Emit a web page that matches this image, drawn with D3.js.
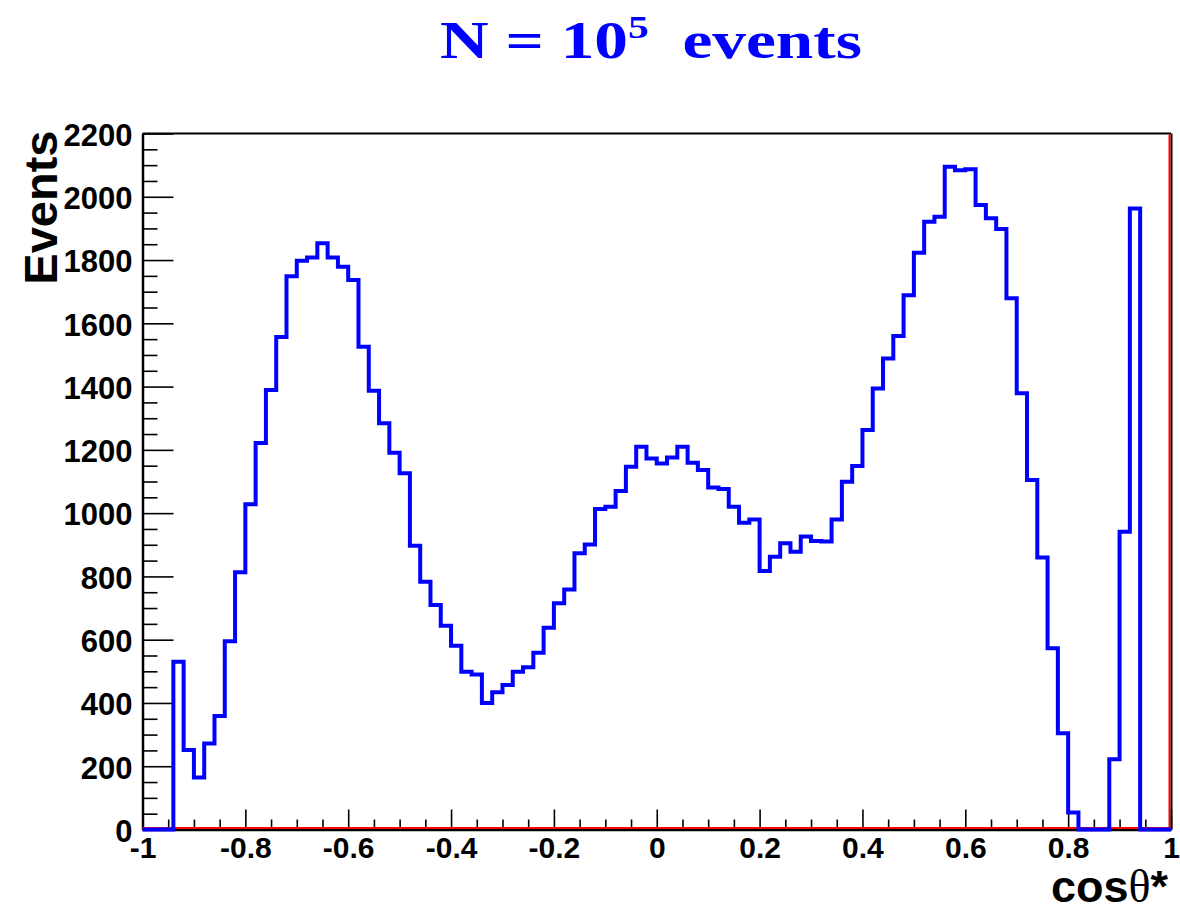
<!DOCTYPE html>
<html>
<head>
<meta charset="utf-8">
<script src="https://cdn.jsdelivr.net/npm/d3@7"></script>
<style>
  body { margin: 0; background: #fff; }
  text { font-family: "Liberation Sans", Arial, sans-serif; font-weight: bold; }
</style>
</head>
<body>
<svg id="chart"></svg>
<script>
// histogram of cos(theta*), 100 bins from -1 to 1
const binLow = -1;
const binHigh = 1;
const counts = [
  0, 0, 0, 530, 251, 164, 272, 359, 595, 813,
  1028, 1222, 1389, 1557, 1749, 1798, 1808, 1853, 1808, 1779,
  1737, 1526, 1387, 1284, 1191, 1126, 897, 783, 710, 644,
  581, 499, 490, 400, 434, 457, 499, 513, 559, 638,
  715, 759, 873, 901, 1013, 1020, 1070, 1147, 1210, 1173,
  1157, 1176, 1210, 1159, 1136, 1081, 1076, 1020, 970, 980,
  817, 862, 905, 878, 926, 912, 910, 980, 1099, 1149,
  1263, 1394, 1489, 1560, 1689, 1823, 1921, 1937, 2095, 2084,
  2087, 1974, 1932, 1898, 1679, 1379, 1105, 860, 573, 304,
  54, 0, 0, 0, 222, 941, 1963, 0, 0, 0
];
const xMajorTicks = [-1, -0.8, -0.6, -0.4, -0.2, 0, 0.2, 0.4, 0.6, 0.8, 1];
const xTickLabels = ["-1", "-0.8", "-0.6", "-0.4", "-0.2", "0", "0.2", "0.4", "0.6", "0.8", "1"];
const yMajorTicks = [0, 200, 400, 600, 800, 1000, 1200, 1400, 1600, 1800, 2000, 2200];
const yMax = 2200;

const width = 1180, height = 911;
const margin = { top: 133.5, right: 9, bottom: 81.5, left: 142.5 };

const svg = d3.select("#chart")
  .attr("width", width)
  .attr("height", height);

const x = d3.scaleLinear()
  .domain([binLow, binHigh])
  .range([margin.left, width - margin.right]);

const y = d3.scaleLinear()
  .domain([0, yMax])
  .range([height - margin.bottom, margin.top]);

const nBins = counts.length;
const binW = (binHigh - binLow) / nBins;

// minor ticks: x every 0.05, y every 50
const xMinor = d3.range(0, 41).map(i => binLow + i * 0.05).filter(v => !xMajorTicks.some(m => Math.abs(m - v) < 1e-9));
const yMinor = d3.range(0, yMax + 1, 50).filter(v => v % 200 !== 0);

// frame top + red lines
svg.append("line")
  .attr("x1", x(binLow)).attr("x2", x(binHigh))
  .attr("y1", y(yMax)).attr("y2", y(yMax))
  .attr("stroke", "#000").attr("stroke-width", 2);
svg.append("line")
  .attr("x1", x(binHigh) + 0.5).attr("x2", x(binHigh) + 0.5)
  .attr("y1", y(yMax)).attr("y2", y(0))
  .attr("stroke", "#000").attr("stroke-width", 2);
svg.append("line")
  .attr("x1", x(binHigh) - 1.5).attr("x2", x(binHigh) - 1.5)
  .attr("y1", y(yMax) + 1).attr("y2", y(0))
  .attr("stroke", "#ff0000").attr("stroke-width", 2);

// x axis
const xAxisGroup = svg.append("g")
  .attr("transform", `translate(0,${y(0)})`)
  .call(d3.axisBottom(x).tickValues(xMajorTicks).tickSize(-20).tickSizeOuter(0).tickPadding(7)
    .tickFormat((d, i) => xTickLabels[i]));
svg.append("g")
  .attr("transform", `translate(0,${y(0)})`)
  .call(d3.axisBottom(x).tickValues(xMinor).tickSize(-10).tickSizeOuter(0).tickFormat(""))
  .select(".domain").remove();

// y axis
const yAxisGroup = svg.append("g")
  .attr("transform", `translate(${x(binLow)},0)`)
  .call(d3.axisLeft(y).tickValues(yMajorTicks).tickSize(-31).tickSizeOuter(0).tickPadding(10)
    .tickFormat(d3.format("d")));
svg.append("g")
  .attr("transform", `translate(${x(binLow)},0)`)
  .call(d3.axisLeft(y).tickValues(yMinor).tickSize(-15).tickSizeOuter(0).tickFormat(""))
  .select(".domain").remove();

svg.selectAll(".tick line").attr("stroke", "#000").attr("stroke-width", 1.6);
svg.selectAll(".domain").attr("stroke", "#000").attr("stroke-width", 2.5);

xAxisGroup.selectAll("text")
  .attr("font-size", 30).attr("fill", "#000")
  .style("font-family", "'Liberation Sans', Arial, sans-serif").style("font-weight", "bold");
yAxisGroup.selectAll("text")
  .attr("font-size", 31).attr("fill", "#000").attr("dy", "0.38em")
  .style("font-family", "'Liberation Sans', Arial, sans-serif").style("font-weight", "bold");

// red line along zero
svg.append("line")
  .attr("x1", x(binLow)).attr("x2", x(binHigh))
  .attr("y1", y(0) - 1.5).attr("y2", y(0) - 1.5)
  .attr("stroke", "#ff0000").attr("stroke-width", 2);

// histogram outline
const pts = [];
counts.forEach((c, i) => {
  const lo = binLow + i * binW;
  pts.push([lo, c], [lo + binW, c]);
});
const line = d3.line()
  .x(d => x(d[0]))
  .y(d => y(d[1]));
svg.append("path")
  .attr("d", line(pts))
  .attr("fill", "none")
  .attr("stroke", "#0000ff")
  .attr("stroke-width", 4)
  .attr("stroke-linejoin", "miter");

// axis titles
svg.append("text")
  .attr("transform", `translate(57,${y(yMax) - 3}) rotate(-90)`)
  .attr("text-anchor", "end")
  .attr("font-size", 47)
  .text("Events");

const xTitle = svg.append("text")
  .attr("x", x(binHigh) - 3)
  .attr("y", 902)
  .attr("text-anchor", "end")
  .attr("font-size", 45);
xTitle.append("tspan").text("cos");
xTitle.append("tspan")
  .style("font-family", "'Liberation Serif', serif").style("font-weight", "normal")
  .attr("font-size", 46).text("θ");
xTitle.append("tspan").text("*");

// title
const title = svg.append("text")
  .attr("x", 0).attr("y", 0)
  .attr("fill", "#0000ff")
  .attr("font-size", 52)
  .style("font-family", "'Liberation Serif', 'Times New Roman', serif");
title.append("tspan").text("N = 10");
title.append("tspan").attr("font-size", 32).attr("dy", -20).text("5");
title.append("tspan").attr("dy", 20).text("\u00a0\u00a0events");
const bb = title.node().getBBox();
const sx = 422 / bb.width;
title.attr("transform", `translate(${651 - sx * (bb.x + bb.width / 2)},58) scale(${sx},1)`);
</script>
</body>
</html>
